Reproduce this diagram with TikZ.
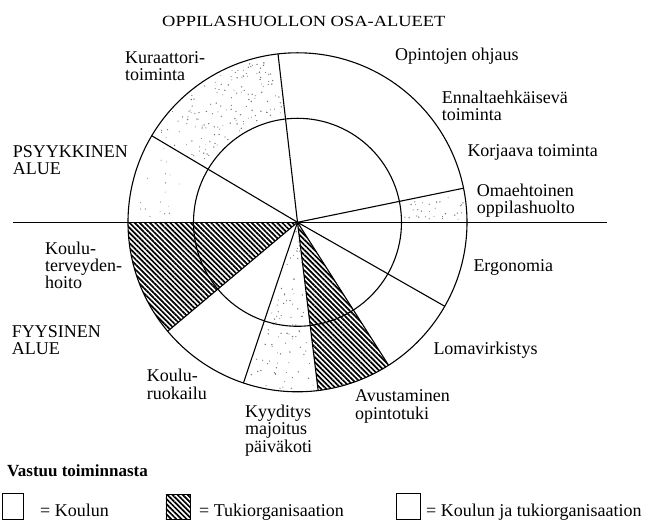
\documentclass[tikz,border=0pt]{standalone}
\usepackage{fontspec}
\setmainfont{Liberation Serif}
\usetikzlibrary{patterns.meta}
\newcommand\stippledots[6]{%
  \foreach \k in {1,...,#5}{%
    \pgfmathsetmacro\sa{#1+rnd*(#2-#1)}%
    \pgfmathsetmacro\sr{100*sqrt(rnd*((#4/100)^2-(#3/100)^2)+(#3/100)^2)}%
    \pgfmathsetmacro\sd{0.45+0.35*rnd}%
    \fill[#6] (\sa:\sr pt) circle[radius=\sd pt];
  }}
\tikzset{
  lbl/.style={anchor=base west, inner sep=0pt, font=\fontsize{18}{18}\selectfont},
  leglbl/.style={anchor=base west, inner sep=0pt, font=\fontsize{18}{18}\selectfont},
  ttl/.style={anchor=base west, inner sep=0pt, font=\fontsize{15.5}{15.5}\selectfont},
  hatch/.style={pattern={Lines[angle=-45,distance=3.6pt,line width=1.7pt]}},
  ring/.style={line width=1.1pt},
  spoke/.style={line width=1.1pt},
  legbox/.style={draw, line width=1pt},
}
\begin{document}
\begin{tikzpicture}[x=1pt,y=1pt]
\useasboundingbox (-297.5,222.3) rectangle (353.5,-303.7);
\def\R{169.5}
\def\r{104}
\coordinate (c) at (0,0);
% hatched sectors
\fill[hatch] (c) -- (180:\R pt) arc[start angle=180, end angle=220, radius=\R pt] -- cycle;
\fill[hatch] (c) -- (277:\R pt) arc[start angle=277, end angle=302.5, radius=\R pt] -- cycle;
% stippled regions
\pgfmathsetseed{7}
\stippledots{98}{148}{107}{167}{150}{black!55}
\stippledots{151}{179}{107}{167}{18}{black!45}
\stippledots{1}{10.5}{107}{167}{32}{black!55}
\stippledots{253}{275.5}{8}{167}{85}{black!55}
% circles
\draw[ring] (c) circle[radius=\R pt];
\draw[ring] (c) circle[radius=\r pt];
% horizontal axis
\coordinate (hl) at (-284.8,0);
\coordinate (hr) at (309.5,0);
\draw[spoke] (hl) -- (hr);
% spokes
\foreach \a/\n in {11.6/s1, 96.6/s2, 149.3/s3, 220/s4, 251.4/s5, 277/s6, 302.5/s7, 330.3/s8}{
  \coordinate (\n) at (\a:\R pt);
  \draw[spoke] (c) -- (\n);
}
% title
\node[ttl] (title) at (-135.5,195.8) {\scalebox{1.19}[1]{OPPILASHUOLLON OSA-ALUEET}};
% labels
\node[lbl] (l1) at (97.5,161.3) {Opintojen ohjaus};
\node[lbl] (l2a) at (144.2,118.3) {Ennaltaehkäisevä};
\node[lbl] (l2b) at (144.2,101.5) {toiminta};
\node[lbl] (l3) at (169.8,65.6) {Korjaava toiminta};
\node[lbl] (l4a) at (179.2,25.9) {Omaehtoinen};
\node[lbl] (l4b) at (179.2,9.1) {oppilashuolto};
\node[lbl] (l5a) at (-172.5,158.8) {Kuraattori-};
\node[lbl] (l5b) at (-172.5,142.0) {toiminta};
\node[lbl] (l6a) at (-284.8,64.5) {PSYYKKINEN};
\node[lbl] (l6b) at (-284.8,47.7) {ALUE};
\node[lbl] (l7a) at (-252.5,-32.6) {Koulu-};
\node[lbl] (l7b) at (-252.5,-49.4) {terveyden-};
\node[lbl] (l7c) at (-252.5,-66.2) {hoito};
\node[lbl] (l8a) at (-285.8,-115.4) {FYYSINEN};
\node[lbl] (l8b) at (-285.8,-132.7) {ALUE};
\node[lbl] (l9) at (175.8,-49.4) {Ergonomia};
\node[lbl] (l10) at (135.8,-132.7) {Lomavirkistys};
\node[lbl] (l11a) at (-150.8,-159.4) {Koulu-};
\node[lbl] (l11b) at (-150.8,-177.7) {ruokailu};
\node[lbl] (l12a) at (-52.5,-195) {Kyyditys};
\node[lbl] (l12b) at (-52.5,-212.7) {majoitus};
\node[lbl] (l12c) at (-52.5,-230.4) {päiväkoti};
\node[lbl] (l13a) at (57.5,-179.4) {Avustaminen};
\node[lbl] (l13b) at (57.5,-197) {opintotuki};
% legend
\node[lbl, font=\fontsize{17}{17}\selectfont\bfseries] (legt) at (-290.5,-254.7) {Vastuu toiminnasta};
\draw[legbox] (-295,-271.7) rectangle (-274,-297.7);
\node[leglbl] (lg1) at (-257.5,-294.7) {= Koulun};
\fill[hatch] (-131.5,-272.2) rectangle (-107.5,-297.2);
\draw[line width=0.6pt] (-131.5,-272.2) rectangle (-107.5,-297.2);
\node[leglbl] (lg2) at (-98.5,-294.7) {= Tukiorganisaation};
\draw[legbox] (98.5,-271.7) rectangle (122.5,-297.7);
\node[leglbl] (lg3) at (128.5,-294.7) {= Koulun ja tukiorganisaation};
\end{tikzpicture}
\end{document}
